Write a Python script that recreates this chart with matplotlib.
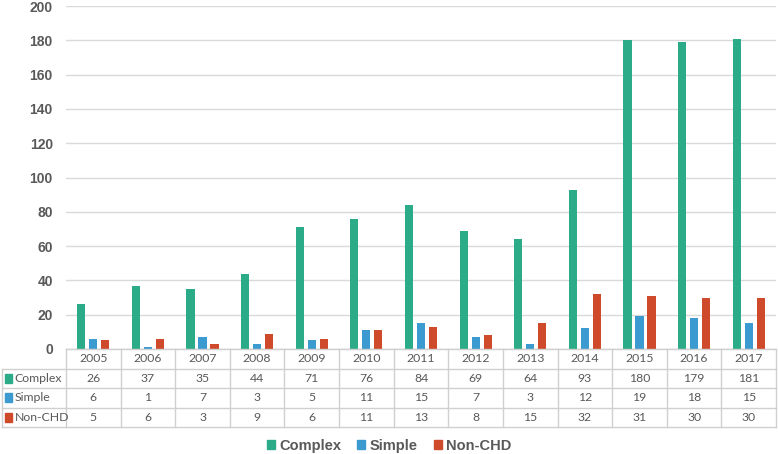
import numpy as np
import matplotlib
matplotlib.use("Agg")
import matplotlib.pyplot as plt
from matplotlib.patches import Rectangle

years = ['2005', '2006', '2007', '2008', '2009', '2010', '2011',
         '2012', '2013', '2014', '2015', '2016', '2017']
complex_ = [26, 37, 35, 44, 71, 76, 84, 69, 64, 93, 180, 179, 181]
simple = [6, 1, 7, 3, 5, 11, 15, 7, 3, 12, 19, 18, 15]
non_chd = [5, 6, 3, 9, 6, 11, 13, 8, 15, 32, 31, 30, 30]
series_names = ['Complex', 'Simple', 'Non-CHD']
colors = ['#2bab87', '#3b9bd1', '#cf4a2b']

W, H = 778, 454
fig = plt.figure(figsize=(W / 100, H / 100), dpi=100)

# plot area in pixels
left, right, top, bottom = 66, 776, 6, 349
ax = fig.add_axes([left / W, 1 - bottom / H, (right - left) / W, (bottom - top) / H])

x = np.arange(len(years))
bw = 0.15
off = 0.22
all_series = [complex_, simple, non_chd]
for k, vals in enumerate(all_series):
    ax.bar(x + (k - 1) * off, vals, width=bw, color=colors[k], zorder=3)

ax.set_xlim(-0.5, len(years) - 0.5)
ax.set_ylim(0, 200)
ax.set_yticks(range(0, 201, 20))
ax.yaxis.grid(True, color='#d9d9d9', linewidth=1)
ax.set_axisbelow(True)
for s in ['top', 'right', 'left']:
    ax.spines[s].set_visible(False)
ax.spines['bottom'].set_color('#d9d9d9')
ax.tick_params(axis='y', length=0, pad=9.5, labelsize=10, labelcolor='#595959')
for t in ax.get_yticklabels():
    t.set_fontweight('bold')
    t.set_fontfamily('Liberation Sans')
ax.set_xticks([])

# data table below the plot area
tab_top = bottom
tab_bot = 427
tax = fig.add_axes([left / W, 1 - tab_bot / H, (right - left) / W, (tab_bot - tab_top) / H])
tax.set_xlim(-0.5, len(years) - 0.5)
tax.set_ylim(4, 0)
tax.axis('off')
col_px = (right - left) / len(years)
lab_w = (left - 2) / col_px
lc = '#d0d0d0'
xl = -0.5 - lab_w
xr = len(years) - 0.5
# horizontal lines
tax.plot([-0.5, xr], [0, 0], color=lc, lw=1, clip_on=False)
for r in range(1, 5):
    tax.plot([xl, xr], [r, r], color=lc, lw=1, clip_on=False)
# vertical lines
for i in range(len(years) + 1):
    tax.plot([i - 0.5, i - 0.5], [0, 4], color=lc, lw=1, clip_on=False)
tax.plot([xl, xl], [1, 4], color=lc, lw=1, clip_on=False)

tfont = dict(fontsize=8.8, color='#595959', family='Lato', ha='center', va='center')
for i, yr in enumerate(years):
    tax.text(i, 0.5, yr, **tfont)
for r, vals in enumerate(all_series):
    for i, v in enumerate(vals):
        tax.text(i, r + 1.5, str(v), **tfont)
    tax.add_patch(Rectangle((xl + 0.06, r + 1.5 - 0.22), 0.13, 0.44,
                            color=colors[r], clip_on=False))
    tax.text(xl + 0.23, r + 1.5, series_names[r], fontsize=8.8, color='#595959',
             family='Lato', ha='left', va='center')

# legend
handles = [Rectangle((0, 0), 1, 1, color=c) for c in colors]
fig.legend(handles, series_names, loc='center', bbox_to_anchor=(0.5, 1 - 446 / H),
           ncol=3, frameon=False, handlelength=0.55, handleheight=0.55,
           handletextpad=0.3, columnspacing=1.1,
           prop={'family': 'Liberation Sans', 'weight': 'bold', 'size': 10.5})
for t in fig.legends[0].get_texts():
    t.set_color('#595959')

fig.savefig('out.png', dpi=100)
